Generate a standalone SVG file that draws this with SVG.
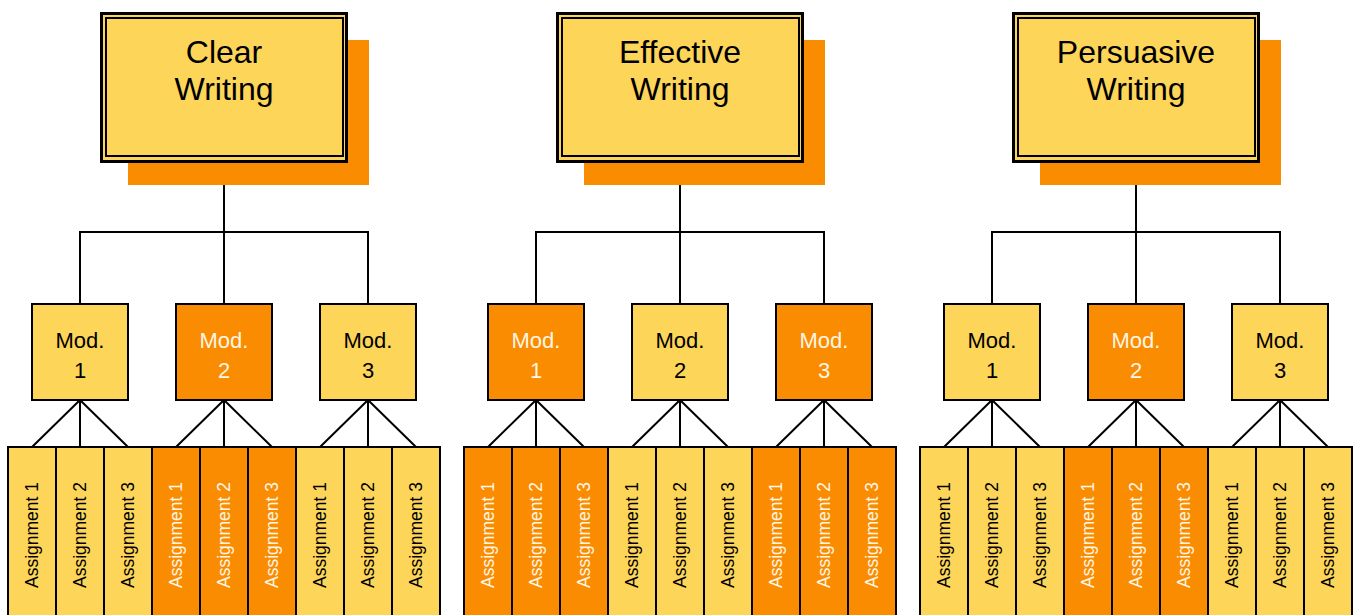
<svg xmlns="http://www.w3.org/2000/svg" width="1360" height="615" viewBox="0 0 1360 615">
<style>
.y{fill:#FDD558}
.o{fill:#F98C00}
.b{stroke:#000;stroke-width:2}
.t{font-family:"Liberation Sans",Arial,sans-serif;text-anchor:middle}
.tt{font-size:32px;fill:#000}
.m{font-size:22px}
.a{font-size:17.5px}
.dk{fill:#000}
.lt{fill:#FFF6E6}
.c{fill:none;stroke:#000;stroke-width:2}
</style>
<defs>
<g id="title">
<rect x="128" y="40" width="241" height="145" class="o"/>
<rect x="101.5" y="13.5" width="245" height="148" class="y" stroke="#000" stroke-width="3"/>
<rect x="106" y="18" width="237" height="138" fill="none" stroke="#000" stroke-width="2"/>
</g>
</defs>
<g id="connectors">
<path class="c" d="M224 185V232M80 304V232H368V304M224 232V304"/>
<path class="c" d="M80 400L32 447M80 400V447M80 400L128 447M224 400L176 447M224 400V447M224 400L272 447M368 400L320 447M368 400V447M368 400L416 447"/>
<path class="c" d="M680 185V232M536 304V232H824V304M680 232V304"/>
<path class="c" d="M536 400L488 447M536 400V447M536 400L584 447M680 400L632 447M680 400V447M680 400L728 447M824 400L776 447M824 400V447M824 400L872 447"/>
<path class="c" d="M1136 185V232M992 304V232H1280V304M1136 232V304"/>
<path class="c" d="M992 400L944 447M992 400V447M992 400L1040 447M1136 400L1088 447M1136 400V447M1136 400L1184 447M1280 400L1232 447M1280 400V447M1280 400L1328 447"/>
</g>
<g id="title-clear"><use href="#title"/><text class="t tt" x="224" y="63">Clear</text><text class="t tt" x="224" y="100">Writing</text></g>
<g id="title-effective"><use href="#title" x="456"/><text class="t tt" x="680" y="63">Effective</text><text class="t tt" x="680" y="100">Writing</text></g>
<g id="title-persuasive"><use href="#title" x="912"/><text class="t tt" x="1136" y="63">Persuasive</text><text class="t tt" x="1136" y="100">Writing</text></g>

<g id="cw-mod1"><rect x="32" y="304" width="96" height="96" class="y b"/><text class="t m dk" x="80" y="348">Mod.</text><text class="t m dk" x="80" y="378">1</text></g>
<g id="cw-mod2"><rect x="176" y="304" width="96" height="96" class="o b"/><text class="t m lt" x="224" y="348">Mod.</text><text class="t m lt" x="224" y="378">2</text></g>
<g id="cw-mod3"><rect x="320" y="304" width="96" height="96" class="y b"/><text class="t m dk" x="368" y="348">Mod.</text><text class="t m dk" x="368" y="378">3</text></g>
<g id="ew-mod1"><rect x="488" y="304" width="96" height="96" class="o b"/><text class="t m lt" x="536" y="348">Mod.</text><text class="t m lt" x="536" y="378">1</text></g>
<g id="ew-mod2"><rect x="632" y="304" width="96" height="96" class="y b"/><text class="t m dk" x="680" y="348">Mod.</text><text class="t m dk" x="680" y="378">2</text></g>
<g id="ew-mod3"><rect x="776" y="304" width="96" height="96" class="o b"/><text class="t m lt" x="824" y="348">Mod.</text><text class="t m lt" x="824" y="378">3</text></g>
<g id="pw-mod1"><rect x="944" y="304" width="96" height="96" class="y b"/><text class="t m dk" x="992" y="348">Mod.</text><text class="t m dk" x="992" y="378">1</text></g>
<g id="pw-mod2"><rect x="1088" y="304" width="96" height="96" class="o b"/><text class="t m lt" x="1136" y="348">Mod.</text><text class="t m lt" x="1136" y="378">2</text></g>
<g id="pw-mod3"><rect x="1232" y="304" width="96" height="96" class="y b"/><text class="t m dk" x="1280" y="348">Mod.</text><text class="t m dk" x="1280" y="378">3</text></g>

<g id="cw-m1-a1"><rect x="8" y="447" width="48" height="180" class="y b"/><text class="t a dk" transform="translate(38,535) rotate(-90)">Assignment 1</text></g>
<g id="cw-m1-a2"><rect x="56" y="447" width="48" height="180" class="y b"/><text class="t a dk" transform="translate(86,535) rotate(-90)">Assignment 2</text></g>
<g id="cw-m1-a3"><rect x="104" y="447" width="48" height="180" class="y b"/><text class="t a dk" transform="translate(134,535) rotate(-90)">Assignment 3</text></g>
<g id="cw-m2-a1"><rect x="152" y="447" width="48" height="180" class="o b"/><text class="t a lt" transform="translate(182,535) rotate(-90)">Assignment 1</text></g>
<g id="cw-m2-a2"><rect x="200" y="447" width="48" height="180" class="o b"/><text class="t a lt" transform="translate(230,535) rotate(-90)">Assignment 2</text></g>
<g id="cw-m2-a3"><rect x="248" y="447" width="48" height="180" class="o b"/><text class="t a lt" transform="translate(278,535) rotate(-90)">Assignment 3</text></g>
<g id="cw-m3-a1"><rect x="296" y="447" width="48" height="180" class="y b"/><text class="t a dk" transform="translate(326,535) rotate(-90)">Assignment 1</text></g>
<g id="cw-m3-a2"><rect x="344" y="447" width="48" height="180" class="y b"/><text class="t a dk" transform="translate(374,535) rotate(-90)">Assignment 2</text></g>
<g id="cw-m3-a3"><rect x="392" y="447" width="48" height="180" class="y b"/><text class="t a dk" transform="translate(422,535) rotate(-90)">Assignment 3</text></g>

<g id="ew-m1-a1"><rect x="464" y="447" width="48" height="180" class="o b"/><text class="t a lt" transform="translate(494,535) rotate(-90)">Assignment 1</text></g>
<g id="ew-m1-a2"><rect x="512" y="447" width="48" height="180" class="o b"/><text class="t a lt" transform="translate(542,535) rotate(-90)">Assignment 2</text></g>
<g id="ew-m1-a3"><rect x="560" y="447" width="48" height="180" class="o b"/><text class="t a lt" transform="translate(590,535) rotate(-90)">Assignment 3</text></g>
<g id="ew-m2-a1"><rect x="608" y="447" width="48" height="180" class="y b"/><text class="t a dk" transform="translate(638,535) rotate(-90)">Assignment 1</text></g>
<g id="ew-m2-a2"><rect x="656" y="447" width="48" height="180" class="y b"/><text class="t a dk" transform="translate(686,535) rotate(-90)">Assignment 2</text></g>
<g id="ew-m2-a3"><rect x="704" y="447" width="48" height="180" class="y b"/><text class="t a dk" transform="translate(734,535) rotate(-90)">Assignment 3</text></g>
<g id="ew-m3-a1"><rect x="752" y="447" width="48" height="180" class="o b"/><text class="t a lt" transform="translate(782,535) rotate(-90)">Assignment 1</text></g>
<g id="ew-m3-a2"><rect x="800" y="447" width="48" height="180" class="o b"/><text class="t a lt" transform="translate(830,535) rotate(-90)">Assignment 2</text></g>
<g id="ew-m3-a3"><rect x="848" y="447" width="48" height="180" class="o b"/><text class="t a lt" transform="translate(878,535) rotate(-90)">Assignment 3</text></g>

<g id="pw-m1-a1"><rect x="920" y="447" width="48" height="180" class="y b"/><text class="t a dk" transform="translate(950,535) rotate(-90)">Assignment 1</text></g>
<g id="pw-m1-a2"><rect x="968" y="447" width="48" height="180" class="y b"/><text class="t a dk" transform="translate(998,535) rotate(-90)">Assignment 2</text></g>
<g id="pw-m1-a3"><rect x="1016" y="447" width="48" height="180" class="y b"/><text class="t a dk" transform="translate(1046,535) rotate(-90)">Assignment 3</text></g>
<g id="pw-m2-a1"><rect x="1064" y="447" width="48" height="180" class="o b"/><text class="t a lt" transform="translate(1094,535) rotate(-90)">Assignment 1</text></g>
<g id="pw-m2-a2"><rect x="1112" y="447" width="48" height="180" class="o b"/><text class="t a lt" transform="translate(1142,535) rotate(-90)">Assignment 2</text></g>
<g id="pw-m2-a3"><rect x="1160" y="447" width="48" height="180" class="o b"/><text class="t a lt" transform="translate(1190,535) rotate(-90)">Assignment 3</text></g>
<g id="pw-m3-a1"><rect x="1208" y="447" width="48" height="180" class="y b"/><text class="t a dk" transform="translate(1238,535) rotate(-90)">Assignment 1</text></g>
<g id="pw-m3-a2"><rect x="1256" y="447" width="48" height="180" class="y b"/><text class="t a dk" transform="translate(1286,535) rotate(-90)">Assignment 2</text></g>
<g id="pw-m3-a3"><rect x="1304" y="447" width="48" height="180" class="y b"/><text class="t a dk" transform="translate(1334,535) rotate(-90)">Assignment 3</text></g>
</svg>
